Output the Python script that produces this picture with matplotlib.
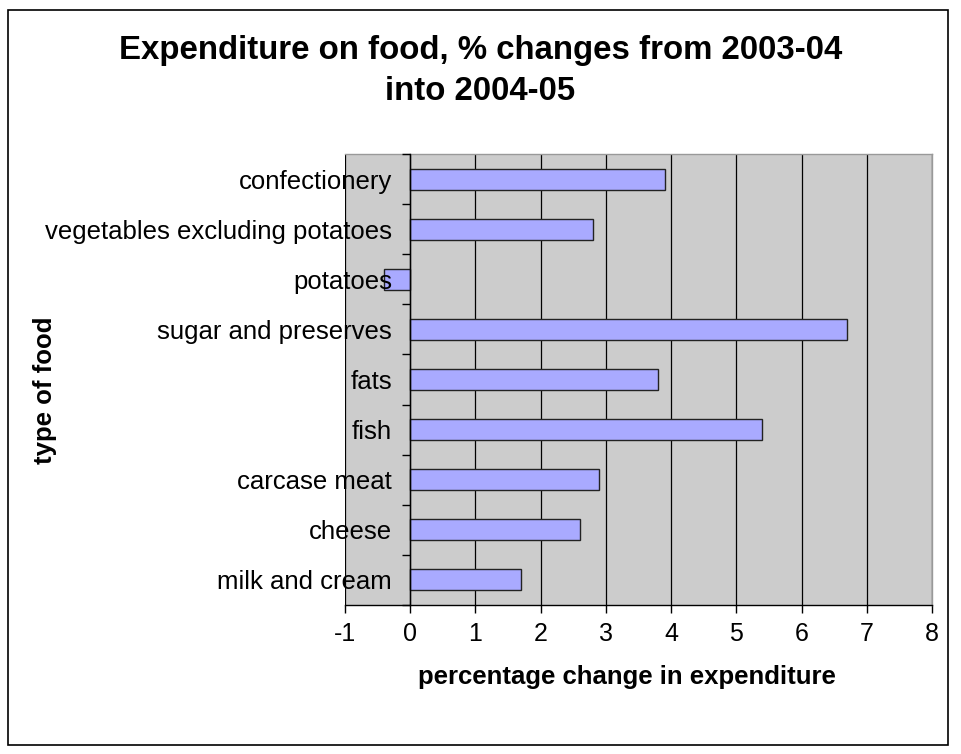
import matplotlib
matplotlib.use("Agg")
import matplotlib.pyplot as plt
from matplotlib.patches import Rectangle

plt.rcParams['font.family'] = ['Liberation Sans', 'DejaVu Sans']

categories = ["milk and cream", "cheese", "carcase meat", "fish", "fats",
              "sugar and preserves", "potatoes", "vegetables excluding potatoes",
              "confectionery"]
values = [1.7, 2.6, 2.9, 5.4, 3.8, 6.7, -0.4, 2.8, 3.9]
xticks = [-1, 0, 1, 2, 3, 4, 5, 6, 7, 8]

fig = plt.figure(figsize=(9.61, 7.54), dpi=100)
fig.patch.set_facecolor('white')
fig.patches.append(Rectangle((8/961, 1-745/754), (948-8)/961, (745-10)/754,
                             transform=fig.transFigure, fill=False,
                             edgecolor='black', linewidth=1.2))

ax = fig.add_axes([345/961, 1-605/754, (932-345)/961, (605-154)/754])
ax.set_facecolor('#CCCCCC')

ypos = list(range(len(categories)))
ax.barh(ypos, values, height=0.42, color='#A9AAFF', edgecolor='#222222',
        linewidth=1.0, zorder=3)

ax.set_xlim(-1, 8)
ax.set_ylim(-0.5, len(categories) - 0.5)
ax.set_xticks(xticks)
ax.set_xticklabels([str(t) for t in xticks])
for t in xticks:
    ax.axvline(t, color='black', linewidth=0.9, zorder=1)

ax.set_yticks(ypos)
ax.set_yticklabels(categories)
ax.set_yticks([i - 0.5 for i in range(len(categories) + 1)], minor=True)
ax.tick_params(axis='y', which='major', length=0, pad=13, labelsize=18.5)
ax.tick_params(axis='y', which='minor', length=6, direction='out', width=1)
ax.tick_params(axis='x', length=6, direction='out', width=1, pad=6, labelsize=18)
ax.yaxis.set_zorder(5)

ax.spines['left'].set_position(('data', 0))
ax.spines['left'].set_color('black')
ax.spines['left'].set_zorder(4)
ax.spines['bottom'].set_color('black')
ax.spines['top'].set_color('#999999')
ax.spines['right'].set_color('#999999')
for s in ax.spines.values():
    s.set_linewidth(1.0)

fig.text(627/961, 1-677/754, 'percentage change in expenditure', fontsize=18.5,
         fontweight='bold', ha='center', va='center')
fig.text(45/961, 1-390/754, 'type of food', rotation=90, fontsize=18.5,
         fontweight='bold', ha='center', va='center')
fig.text(0.5, 1-71/754, 'Expenditure on food, % changes from 2003-04\ninto 2004-05',
         ha='center', va='center', fontsize=23.8, fontweight='bold', linespacing=1.4)

fig.savefig('out.png', dpi=100)
